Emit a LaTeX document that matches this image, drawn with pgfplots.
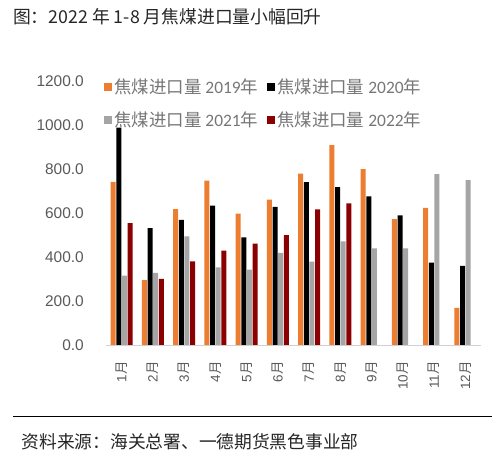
\documentclass[border=0pt]{standalone}
\usepackage{pgfplots}
\pgfplotsset{compat=1.18}
\usepackage{fontspec}
\setmainfont{Liberation Sans}
\newfontfamily\cjk{Noto Sans CJK SC}
\newfontfamily\carlito{Carlito}
\definecolor{c19}{HTML}{ED7D31}
\definecolor{c20}{HTML}{000000}
\definecolor{c21}{HTML}{A5A5A5}
\definecolor{c22}{HTML}{8B0000}
\definecolor{axgray}{HTML}{D0D0D0}
\definecolor{lblgray}{HTML}{595959}
\definecolor{leggray}{HTML}{767676}
\pgfplotsset{sqleg/.style={legend image code/.code={\fill[##1] (0bp,-4bp) rectangle (8bp,4bp);}}}
\begin{document}
\begin{tikzpicture}[x=1bp,y=1bp]
\path[use as bounding box] (0,0) rectangle (500,458);
\node[anchor=west, inner sep=0pt, font=\cjk\fontsize{17.85}{20}\selectfont, text=black!85] at (13,441) {图：2022 年 1-8 月焦煤进口量小幅回升};
\draw[line width=1.5bp] (13,41.3) -- (492,41.3);
\node[anchor=west, inner sep=0pt, font=\cjk\fontsize{17.8}{20}\selectfont, text=black!85] at (21.5,16.3) {资料来源：海关总署、一德期货黑色事业部};
\begin{axis}[
  at={(106bp,113bp)}, anchor=south west,
  scale only axis, width=375bp, height=264.3bp,
  ybar=0.6bp, bar width=5bp,
  xmin=-0.5, xmax=11.5, ymin=0, ymax=1200,
  enlargelimits=false,
  axis x line*=bottom, axis y line*=left,
  y axis line style={draw=none},
  x axis line style={draw=axgray, line width=0.8bp},
  xtick={0,...,11},
  xticklabels={1{\cjk 月},2{\cjk 月},3{\cjk 月},4{\cjk 月},5{\cjk 月},6{\cjk 月},7{\cjk 月},8{\cjk 月},9{\cjk 月},10{\cjk 月},11{\cjk 月},12{\cjk 月}},
  minor xtick={-0.5,0.5,...,11.5},
  tick align=outside,
  major tick length=0pt,
  minor tick length=5bp,
  minor tick style={draw=axgray, line width=0.8bp},
  ytick={0,200,...,1200},
  ytick style={draw=none},
  xtick style={draw=none},
  xticklabel shift=16bp,
  xticklabel style={rotate=90, anchor=east, inner sep=0pt, font=\fontsize{13.5}{15}\selectfont, text=lblgray},
  yticklabel style={inner sep=0pt, xshift=-22bp, font=\fontsize{15.5}{18}\selectfont, text=lblgray},
  /pgf/number format/assume math mode=true,
  /pgf/number format/fixed, /pgf/number format/fixed zerofill, /pgf/number format/precision=1,
  /pgf/number format/1000 sep={},
  legend columns=2,
  legend style={at={(-0.005,1.016)}, anchor=north west, draw=none, fill=none, inner sep=0pt,
    font=\carlito\fontsize{17.5}{20}\selectfont, text=leggray,
    nodes={inner sep=2bp}, row sep=13bp,
    /tikz/every even column/.append style={column sep=7bp}},
  legend cell align=left,
]
\addplot[fill=c19, draw=none, sqleg] coordinates {
(0,741) (1,294) (2,617) (3,746) (4,596) (5,660) (6,778) (7,907) (8,799) (9,572) (10,622) (11,169)};
\addplot[fill=c20, draw=none, sqleg] coordinates {
(0,987) (1,531) (2,568) (3,633) (4,489) (5,627) (6,740) (7,717) (8,675) (9,589) (10,374) (11,359)};
\addplot[fill=c21, draw=none, sqleg] coordinates {
(0,315) (1,327) (2,493) (3,352) (4,342) (5,418) (6,378) (7,471) (8,439) (9,439) (10,776) (11,749)};
\addplot[fill=c22, draw=none, sqleg] coordinates {
(0,553) (1,300) (2,380) (3,428) (4,460) (5,499) (6,616) (7,643)};
\legend{{\cjk 焦煤进口量} 2019{\cjk 年},{\cjk 焦煤进口量} 2020{\cjk 年},{\cjk 焦煤进口量} 2021{\cjk 年},{\cjk 焦煤进口量} 2022{\cjk 年}}
\end{axis}
\end{tikzpicture}
\end{document}
